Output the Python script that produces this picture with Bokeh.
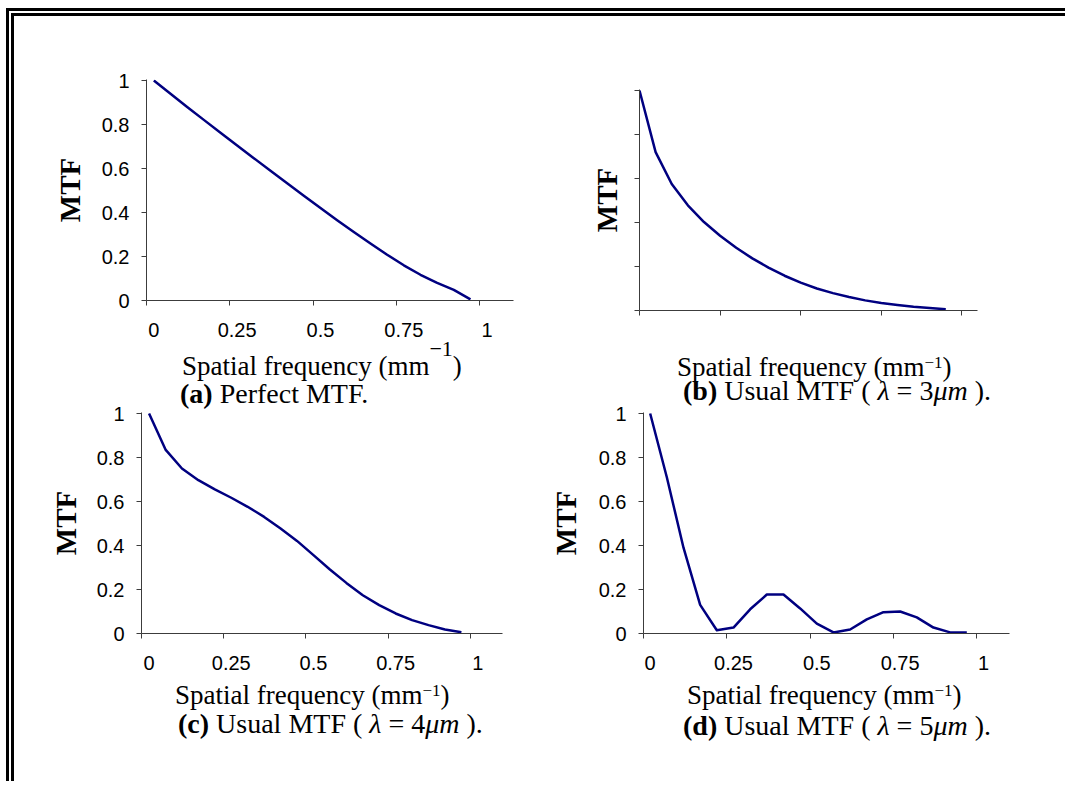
from bokeh.plotting import figure
from bokeh.models import Range1d, FixedTicker, Div
from bokeh.layouts import column, row
from bokeh.embed import file_html
from bokeh.resources import INLINE

# ---------------- data ----------------
FREQ = [0.00, 0.05, 0.10, 0.15, 0.20, 0.25, 0.30, 0.35, 0.40, 0.45,
        0.50, 0.55, 0.60, 0.65, 0.70, 0.75, 0.80, 0.85, 0.90, 0.95]
MTF_A = [1.000, 0.940, 0.880, 0.821, 0.763, 0.705, 0.647, 0.590, 0.533, 0.476,
         0.420, 0.365, 0.311, 0.259, 0.208, 0.160, 0.117, 0.080, 0.048, 0.005]
MTF_B = [1.000, 0.720, 0.575, 0.478, 0.402, 0.340, 0.285, 0.237, 0.195, 0.158,
         0.127, 0.100, 0.079, 0.061, 0.046, 0.034, 0.025, 0.017, 0.011, 0.006]
MTF_C = [1.000, 0.836, 0.750, 0.697, 0.655, 0.617, 0.576, 0.530, 0.477, 0.421,
         0.356, 0.291, 0.230, 0.174, 0.129, 0.091, 0.061, 0.038, 0.018, 0.006]
MTF_D = [1.000, 0.710, 0.390, 0.130, 0.015, 0.027, 0.110, 0.177, 0.177, 0.114,
         0.045, 0.005, 0.018, 0.064, 0.097, 0.100, 0.073, 0.027, 0.005, 0.005]

X_TICKS = [0, 0.25, 0.5, 0.75, 1]
X_TICK_LABELS = ["0", "0.25", "0.5", "0.75", "1"]
Y_TICKS = [0, 0.2, 0.4, 0.6, 0.8, 1]
Y_TICK_LABELS = ["0", "0.2", "0.4", "0.6", "0.8", "1"]

Y_TITLE = "MTF"
X_TITLE = "Spatial frequency (mm"
X_TITLE_SUP = "\u22121"
X_TITLE_END = ")"
CAPTION_A = [("(a)", "b"), (" Perfect MTF.", "")]
CAPTION_B = [("(b)", "b"), (" Usual MTF ( ", ""), ("\u03bb", "i"),
             (" = 3", ""), ("\u03bcm", "i"), (" ).", "")]
CAPTION_C = [("(c)", "b"), (" Usual MTF ( ", ""), ("\u03bb", "i"),
             (" = 4", ""), ("\u03bcm", "i"), (" ).", "")]
CAPTION_D = [("(d)", "b"), (" Usual MTF ( ", ""), ("\u03bb", "i"),
             (" = 5", ""), ("\u03bcm", "i"), (" ).", "")]

# ---------------- styling ----------------
LINE_COLOR = "#000080"
AXIS_COLOR = "#3c3c3c"
SERIF = "Liberation Serif"
SANS = "Liberation Sans"


def make_fig(series, W, H, left, top, fw, fh, x_start, ppx, tick_shift,
             labels, ylab_standoff):
    ppy = 220.0
    p = figure(width=W, height=H, frame_width=fw, frame_height=fh,
               min_border_left=left, min_border_top=top,
               min_border_right=W - left - fw, min_border_bottom=H - top - fh,
               x_range=Range1d(x_start, x_start + fw / ppx),
               y_range=Range1d(0, fh / ppy),
               output_backend="svg", toolbar_location=None,
               background_fill_color="white", border_fill_color=None)
    p.outline_line_color = None
    p.xgrid.grid_line_color = None
    p.ygrid.grid_line_color = None

    xa = p.xaxis[0]
    ya = p.yaxis[0]
    for ax in (xa, ya):
        ax.axis_line_color = AXIS_COLOR
        ax.axis_line_width = 1
        ax.major_label_text_font = SANS
        ax.major_label_text_font_size = "20px"
        ax.major_label_text_color = "black" if labels else None

    ya.ticker = FixedTicker(ticks=Y_TICKS)
    ya.major_label_overrides = dict(zip(Y_TICKS, Y_TICK_LABELS))
    ya.major_tick_in = 0
    ya.major_tick_out = 5
    ya.major_tick_line_color = AXIS_COLOR
    ya.minor_tick_line_color = None
    ya.major_label_standoff = 12
    ya.axis_label = Y_TITLE
    ya.axis_label_text_font = SERIF
    ya.axis_label_text_font_size = "29px"
    ya.axis_label_text_font_style = "bold"
    ya.axis_label_text_color = "black"
    ya.axis_label_standoff = ylab_standoff

    if tick_shift == 0:
        xa.ticker = FixedTicker(ticks=X_TICKS)
        xa.major_tick_in = 0
        xa.major_tick_out = 5
        xa.major_tick_line_color = AXIS_COLOR
        xa.minor_tick_line_color = None
    else:
        xa.ticker = FixedTicker(ticks=X_TICKS,
                                minor_ticks=[t + tick_shift for t in X_TICKS])
        xa.major_tick_line_color = None
        xa.major_tick_in = 0
        xa.major_tick_out = 0
        xa.minor_tick_line_color = AXIS_COLOR
        xa.minor_tick_in = 0
        xa.minor_tick_out = 5
        xa.major_label_standoff = 17
    xa.major_label_overrides = dict(zip(X_TICKS, X_TICK_LABELS))

    p.line(FREQ, series, line_color=LINE_COLOR, line_width=2.5,
           line_join="round")
    return p


def caption_html(caption):
    out = []
    for txt, tag in caption:
        out.append("<%s>%s</%s>" % (tag, txt, tag) if tag else txt)
    return "".join(out)


def make_div(W, H, xl_left, xl_top, sup_size, sup_raise, cap_left, cap_top,
             caption):
    base = ("position:absolute; white-space:nowrap; line-height:1; "
            "font-family:'%s'; color:black; margin:0; padding:0;" % SERIF)
    html = (
        '<div style="position:relative; width:%dpx; height:%dpx; overflow:visible;">' % (W, H)
        + '<div style="%s left:%dpx; top:%.1fpx; font-size:27px;">%s'
          '<span style="position:relative; top:-%dpx; font-size:%dpx;">%s</span>%s</div>'
          % (base, xl_left, xl_top, X_TITLE, sup_raise, sup_size, X_TITLE_SUP,
             X_TITLE_END)
        + '<div style="%s left:%dpx; top:%.1fpx; font-size:28px;">%s</div>'
          % (base, cap_left, cap_top, caption_html(caption))
        + '</div>')
    return Div(text=html, width=W, height=H, margin=0,
               styles={"overflow": "visible"})


pa = make_fig(MTF_A, 526, 326, 132, 63, 367, 221, -0.022, 333.3, -0.022, True, 13)
pb = make_fig(MTF_B, 525, 326, 99, 73, 338, 221, 0.0, 322.4, 0, False, 12)
pc = make_fig(MTF_C, 526, 274, 127, 10, 361, 221, -0.023, 328.8, -0.023, True, 12)
pd = make_fig(MTF_D, 525, 274, 103, 10, 366, 221, -0.02, 333.3, -0.02, True, 14)

da = make_div(526, 60, 168, 11.4, 22, 19, 166, 37.5, CAPTION_A)
db = make_div(525, 60, 137, 12.4, 17, 8, 143, 34.5, CAPTION_B)
dc = make_div(526, 105, 161, 6.4, 17, 8, 164, 33.5, CAPTION_C)
dd = make_div(525, 105, 147, 6.4, 17, 8, 143, 35.5, CAPTION_D)

layout = column(
    row(column(pa, da), column(pb, db)),
    row(column(pc, dc), column(pd, dd)),
    styles={"border-left": "8px double black",
            "border-top": "8px double black",
            "margin-left": "6px", "margin-top": "8px"})

open("out.html", "w").write(file_html(layout, INLINE))
